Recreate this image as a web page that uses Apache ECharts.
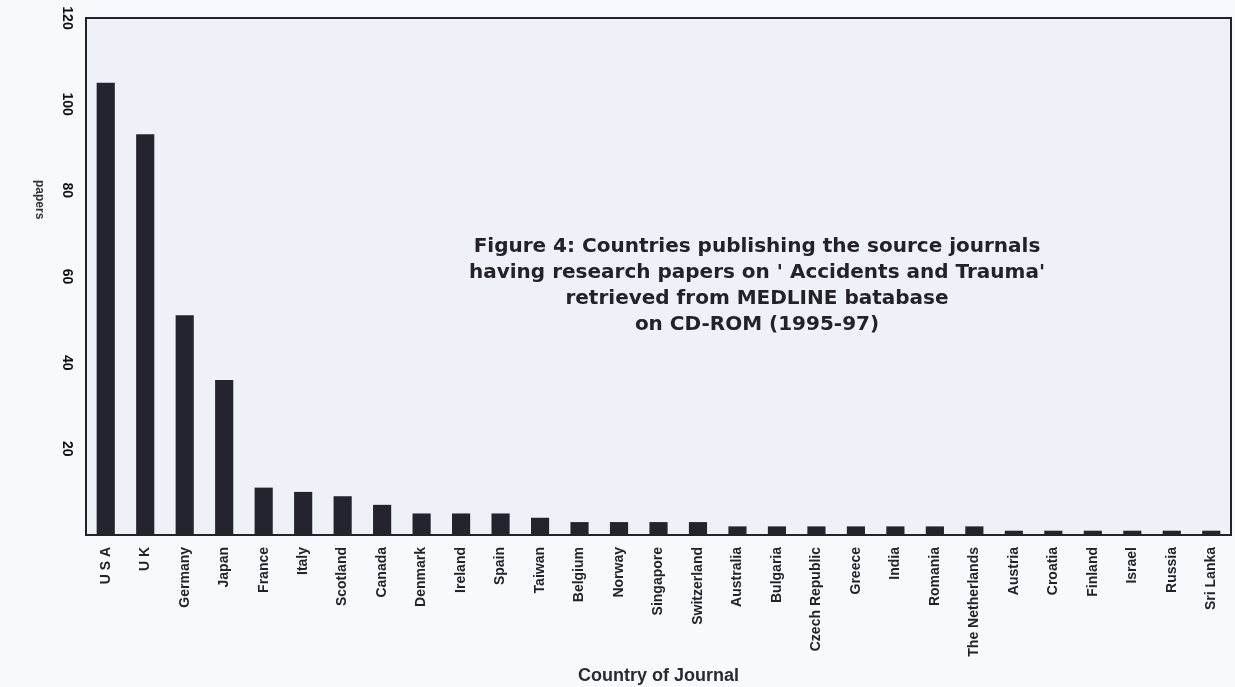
<!DOCTYPE html>
<html>
<head>
<meta charset="utf-8">
<script src="https://cdn.jsdelivr.net/npm/echarts@6/dist/echarts.min.js"></script>
<style>
	html, body { margin: 0; padding: 0; background: #f8f9fc; }
	#chart { width: 1235px; height: 687px; }
</style>
</head>
<body>
<div id="chart"></div>
<script>
// countries, in the order of the figure
var countries = [ 'U S A', 'U K', 'Germany', 'Japan', 'France', 'Italy',
		'Scotland', 'Canada', 'Denmark', 'Ireland', 'Spain', 'Taiwan',
		'Belgium', 'Norway', 'Singapore', 'Switzerland', 'Australia',
		'Bulgaria', 'Czech Republic', 'Greece', 'India', 'Romania',
		'The Netherlands', 'Austria', 'Croatia', 'Finland', 'Israel',
		'Russia', 'Sri Lanka' ];
// number of papers per country
var papers = [ 105, 93, 51, 36, 11, 10, 9, 7, 5, 5, 5, 4, 3, 3, 3, 3, 2, 2,
		2, 2, 2, 2, 2, 1, 1, 1, 1, 1, 1 ];
// y axis ticks
var yTicks = [ 0, 20, 40, 60, 80, 100, 120 ];
var titleLines = [ 'Figure 4: Countries publishing the source journals',
		'having research papers on \' Accidents and Trauma\'',
		'retrieved from MEDLINE batabase', 'on CD-ROM (1995-97)' ];

var myChart = echarts.init(document.getElementById('chart'));
var option = {
	backgroundColor : '#f8f9fc',
	animation : false,
	title : {
		text : titleLines.join('\n'),
		left : 752,
		top : 229,
		textAlign : 'center',
		textStyle : {
			fontFamily : 'DejaVu Sans',
			fontWeight : 'bold',
			fontSize : 20,
			lineHeight : 26,
			color : '#222228'
		}
	},
	grid : {
		left : 86,
		right : 4,
		top : 18,
		bottom : 152,
		outerBoundsMode : 'none',
		containLabel : false,
		show : true,
		backgroundColor : '#eff1f9',
		borderColor : '#222228',
		borderWidth : 2
	},
	xAxis : {
		type : 'category',
		data : countries,
		name : 'Country of Journal',
		nameLocation : 'middle',
		nameGap : 132,
		nameTextStyle : {
			fontFamily : 'Liberation Sans',
			fontWeight : 'bold',
			fontSize : 18,
			color : '#2a2a30'
		},
		axisLine : {
			lineStyle : {
				color : '#222228',
				width : 2
			}
		},
		axisTick : {
			show : false
		},
		axisLabel : {
			interval : 0,
			rotate : 90,
			margin : 12,
			fontFamily : 'Liberation Sans',
			fontWeight : 'bold',
			fontSize : 14,
			color : '#222228'
		}
	},
	yAxis : {
		type : 'value',
		min : yTicks[0],
		max : yTicks[yTicks.length - 1],
		interval : 20,
		axisLine : {
			show : true,
			lineStyle : {
				color : '#222228',
				width : 2
			}
		},
		axisTick : {
			show : false
		},
		splitLine : {
			show : false
		},
		axisLabel : {
			showMinLabel : false,
			rotate : -90,
			margin : 12,
			fontFamily : 'Liberation Sans',
			fontWeight : 'bold',
			fontSize : 14,
			color : '#111'
		}
	},
	graphic : [ {
		type : 'text',
		left : 33,
		top : 180,
		rotation : -Math.PI / 2,
		style : {
			text : 'papers',
			font : 'bold 12px "Liberation Sans"',
			fill : '#333'
		}
	} ],
	series : [ {
		name : 'papers',
		type : 'bar',
		barWidth : '46%',
		itemStyle : {
			color : '#24242e'
		},
		data : papers
	} ]
};
myChart.setOption(option);
</script>
</body>
</html>
